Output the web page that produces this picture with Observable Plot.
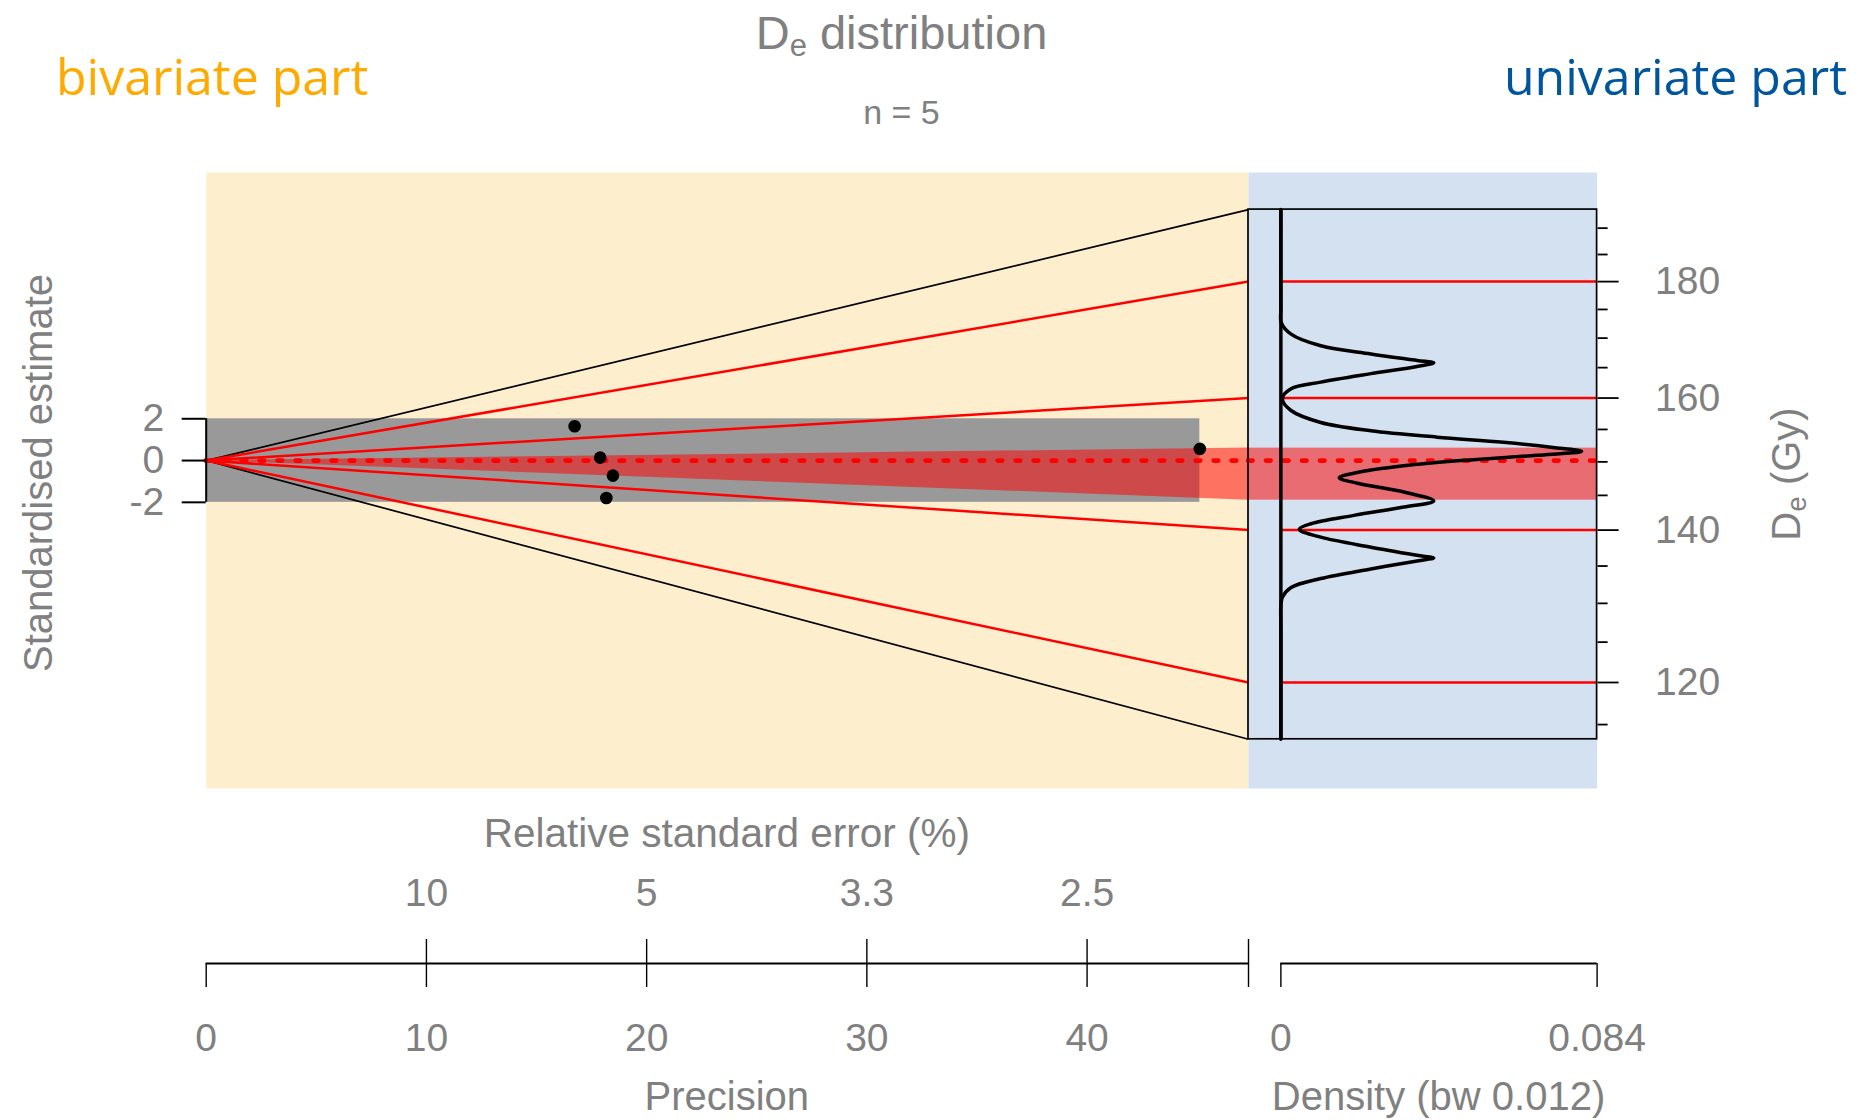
<!DOCTYPE html>
<html><head><meta charset="utf-8">
<script src="https://cdn.jsdelivr.net/npm/d3@7"></script>
<script src="https://cdn.jsdelivr.net/npm/@observablehq/plot@0.6"></script>
<style>
html,body{margin:0;padding:0;background:#fff;}
#chart{position:relative;width:1864px;height:1120px;overflow:hidden;}
#chart > svg{position:absolute;left:0;top:0;}
</style></head><body><div id="chart"></div>
<script>
// ---------------- data ----------------
const precision = [16.73, 17.89, 18.47, 18.17, 45.12];
const standardisedEstimate = [1.64, 0.14, -0.72, -1.79, 0.56];
const centralDe = 150.2;
const radialLineDe = [120, 140, 160, 180];
const radialBoundDe = [113.3, 193.6];
const quartileDe = [144.3, 152.1];
const deMajorTicks = [120, 140, 160, 180];
const deMinorTicks = [115, 125, 130, 135, 145, 150, 155, 165, 170, 175, 185, 190];
const stdTicks = [-2, 0, 2];
const precisionTicks = [0, 10, 20, 30, 40];
const rseTicks = [10, 20, 30, 40];
const rseTickLabels = ["10", "5", "3.3", "2.5"];
const densityTicks = [0, 0.084];
const densityDe = [193.6, 175.0, 172.7, 170.7, 168.7, 167.3, 166.2, 165.8, 165.2, 164.0, 162.6, 161.5, 159.9,
  158.0, 156.1, 154.8, 153.8, 153.0, 152.2, 151.6, 151.0, 150.3, 149.4, 148.4, 147.6, 146.8, 145.5,
  144.2, 143.3, 142.1, 140.9, 140.1, 139.0, 137.6, 136.4, 136.1, 135.7, 134.6, 133.3, 132.1, 130.8,
  129.7, 127.0, 113.3];
const densityValue = [0, 0, 0.0001, 0.0027, 0.0106, 0.0239, 0.0362, 0.0406, 0.0362, 0.0239, 0.0106, 0.0027, 0.0004,
  0.0027, 0.0106, 0.0239, 0.0415, 0.0591, 0.0723, 0.0799, 0.0680, 0.0503, 0.0326, 0.0203, 0.0155, 0.0203, 0.0327,
  0.0406, 0.0327, 0.0194, 0.0080, 0.0049, 0.0106, 0.0239, 0.0371, 0.0406, 0.0362, 0.0239, 0.0106, 0.0027, 0.0004,
  0, 0, 0];

// ---------------- layout ----------------
const W = 1864, H = 1120;
const frameTop = 172, frameBottom = 788;
const bivLeft = 205.7, bivRight = 1248, uniRight = 1596.6, axisLineY = 963;
const precisionMax = 47.33;
const deDomain = [107.8, 201.0];
const densityDomain = [-0.0086, 0.084];
const gray = "#808080";
const font = "'Liberation Sans', Arial, Helvetica, sans-serif";
const baseStyle = {background: "transparent", fontFamily: font, fontSize: "39px", color: gray, overflow: "visible"};
const toStd = de => Math.log(de / centralDe) * precisionMax;

const points = precision.map((p, i) => ({p, z: standardisedEstimate[i]}));
const radial = radialLineDe.map(de => ({de, z: toStd(de)}));
const bounds = radialBoundDe.map(de => ({de, z: toStd(de)}));
const wedge = [{p: 0, lo: 0, hi: 0}, {p: precisionMax, lo: toStd(quartileDe[0]), hi: toStd(quartileDe[1])}];
const density = densityDe.map((de, i) => ({de, d: densityValue[i]}));
const dotted = {stroke: "red", strokeWidth: 4.8, strokeDasharray: "4.5,13.5", strokeLinecap: "round"};

// ---------------- bivariate part ----------------
const plotA = Plot.plot({
  width: W, height: H,
  marginLeft: bivLeft, marginRight: W - bivRight, marginTop: frameTop, marginBottom: H - frameBottom,
  style: baseStyle,
  x: {domain: [0, precisionMax], axis: null},
  y: {domain: deDomain.map(toStd)},
  marks: [
    Plot.frame({fill: "#FDEECE", stroke: "none"}),
    Plot.rect([0], {x1: 0, x2: d3.max(precision), y1: stdTicks[0], y2: stdTicks[2], fill: "#999999"}),
    Plot.areaY(wedge, {x: "p", y1: "lo", y2: "hi", fill: "red", fillOpacity: 0.52}),
    Plot.link(bounds, {x1: 0, y1: 0, x2: precisionMax, y2: "z", stroke: "black", strokeWidth: 1.7}),
    Plot.link(radial, {x1: 0, y1: 0, x2: precisionMax, y2: "z", stroke: "red", strokeWidth: 2.5}),
    Plot.ruleY([0], {x1: 0, x2: precisionMax, ...dotted}),
    Plot.dot(points, {x: "p", y: "z", r: 6.3, fill: "black", stroke: "none"}),
    Plot.ruleX([0], {y1: stdTicks[0], y2: stdTicks[2], stroke: "black", strokeWidth: 2}),
    Plot.axisY({anchor: "left", ticks: stdTicks, tickSize: 24, tickPadding: 18, tickFormat: d => String(d),
      stroke: "black", strokeWidth: 2, fill: gray, label: null})
  ]
});

// ---------------- univariate part ----------------
const plotB = Plot.plot({
  width: W, height: H,
  marginLeft: bivRight, marginRight: W - uniRight, marginTop: frameTop, marginBottom: H - frameBottom,
  style: baseStyle,
  x: {domain: densityDomain, axis: null},
  y: {type: "log", domain: deDomain},
  marks: [
    Plot.frame({fill: "#D4E1F1", stroke: "none"}),
    Plot.rect([quartileDe], {x1: densityDomain[0], x2: densityDomain[1], y1: d => d[0], y2: d => d[1], fill: "red", fillOpacity: 0.52}),
    Plot.ruleY(radialLineDe, {x1: 0, x2: densityDomain[1], stroke: "red", strokeWidth: 2.5}),
    Plot.ruleY([centralDe], {x1: densityDomain[0], x2: densityDomain[1], ...dotted}),
    Plot.rect([radialBoundDe], {x1: densityDomain[0], x2: densityDomain[1], y1: d => d[0], y2: d => d[1], fill: "none", stroke: "black", strokeWidth: 1.7}),
    Plot.ruleX([0], {y1: radialBoundDe[0], y2: radialBoundDe[1], stroke: "black", strokeWidth: 3.5}),
    Plot.line(density, {x: "d", y: "de", curve: "catmull-rom", stroke: "black", strokeWidth: 3.5}),
    Plot.axisY({anchor: "right", ticks: deMajorTicks, tickSize: 21, tickPadding: 37, tickFormat: d => String(d),
      stroke: "black", strokeWidth: 1.8, fill: gray, label: null}),
    Plot.axisY({anchor: "right", ticks: deMinorTicks, tickSize: 10, tickFormat: () => "",
      stroke: "black", strokeWidth: 1.8, label: null})
  ]
});

// ---------------- precision / relative standard error axis ----------------
const plotC = Plot.plot({
  width: W, height: H,
  marginLeft: bivLeft, marginRight: W - bivRight, marginTop: axisLineY, marginBottom: H - axisLineY,
  style: baseStyle,
  x: {domain: [0, precisionMax]},
  y: {domain: [0, 1], axis: null},
  marks: [
    Plot.ruleY([0], {x1: 0, x2: precisionMax, stroke: "black", strokeWidth: 2.2}),
    Plot.axisX({anchor: "bottom", ticks: precisionTicks, tickSize: 24, tickPadding: 36, tickFormat: d => String(d),
      stroke: "black", strokeWidth: 1.4, fill: gray, label: null}),
    Plot.axisX({anchor: "bottom", ticks: [precisionMax], tickSize: 24, tickFormat: () => "",
      stroke: "black", strokeWidth: 1.4, label: null}),
    Plot.axisX({anchor: "top", ticks: rseTicks.concat([precisionMax]), tickSize: 25, tickPadding: 33,
      tickFormat: d => rseTicks.includes(d) ? rseTickLabels[rseTicks.indexOf(d)] : "",
      stroke: "black", strokeWidth: 1.4, fill: gray, label: null})
  ]
});

// ---------------- density axis ----------------
const plotD = Plot.plot({
  width: W, height: H,
  marginLeft: bivRight, marginRight: W - uniRight, marginTop: axisLineY, marginBottom: H - axisLineY,
  style: baseStyle,
  x: {domain: densityDomain},
  y: {domain: [0, 1], axis: null},
  marks: [
    Plot.ruleY([0], {x1: densityTicks[0], x2: densityTicks[1], stroke: "black", strokeWidth: 2.2}),
    Plot.axisX({anchor: "bottom", ticks: densityTicks, tickSize: 24, tickPadding: 36, tickFormat: d => String(d),
      stroke: "black", strokeWidth: 1.4, fill: gray, label: null})
  ]
});

const chart = document.getElementById("chart");
[plotA, plotB, plotC, plotD].forEach(p => chart.appendChild(p));

// ---------------- titles and axis labels ----------------
const ov = d3.select(chart).append("svg").attr("width", W).attr("height", H)
  .style("position", "absolute").style("left", 0).style("top", 0).style("pointer-events", "none")
  .attr("font-family", font).attr("fill", gray);

const title = ov.append("text").attr("x", 901.5).attr("y", 49).attr("text-anchor", "middle").attr("font-size", 47);
title.append("tspan").text("D");
title.append("tspan").attr("font-size", 31).attr("dy", 7).text("e");
title.append("tspan").attr("dy", -7).text(" distribution");

ov.append("text").attr("x", 901.5).attr("y", 124).attr("text-anchor", "middle").attr("font-size", 34).text("n = 5");

ov.append("text").attr("x", 56).attr("y", 95).attr("font-family", "'Open Sans', 'Noto Sans', sans-serif")
  .attr("font-size", 50).attr("fill", "#FFAA00").text("bivariate part");
ov.append("text").attr("x", 1847).attr("y", 95).attr("text-anchor", "end").attr("font-family", "'Open Sans', 'Noto Sans', sans-serif")
  .attr("font-size", 50).attr("fill", "#00569C").text("univariate part");

ov.append("text").attr("x", (bivLeft + bivRight) / 2).attr("y", 847).attr("text-anchor", "middle").attr("font-size", 40.5)
  .text("Relative standard error (%)");
ov.append("text").attr("x", (bivLeft + bivRight) / 2).attr("y", 1110).attr("text-anchor", "middle").attr("font-size", 40)
  .text("Precision");
ov.append("text").attr("x", 1438.5).attr("y", 1110).attr("text-anchor", "middle").attr("font-size", 40)
  .text("Density (bw 0.012)");

ov.append("text").attr("transform", "translate(52,473) rotate(-90)").attr("text-anchor", "middle").attr("font-size", 40)
  .text("Standardised estimate");

const deLab = ov.append("text").attr("transform", "translate(1800,474) rotate(-90)").attr("text-anchor", "middle").attr("font-size", 40);
deLab.append("tspan").text("D");
deLab.append("tspan").attr("font-size", 28).attr("dy", 6).text("e");
deLab.append("tspan").attr("dy", -6).text(" (Gy)");
</script></body></html>
